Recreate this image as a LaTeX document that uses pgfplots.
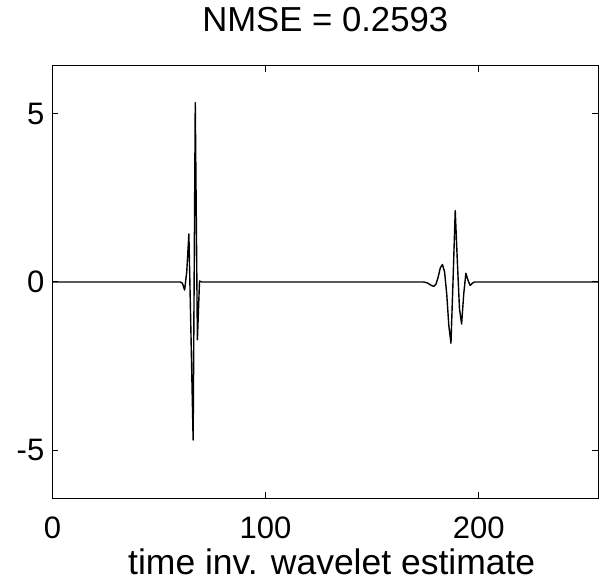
\documentclass[border=0pt]{standalone}
\usepackage{fontspec}
\setmainfont{Liberation Sans}
\usepackage{pgfplots}
\pgfplotsset{compat=1.18}
\begin{document}
\begin{tikzpicture}
\begin{axis}[
  scale only axis,
  width=545.5pt, height=432pt,
  xmin=0, xmax=256, ymin=-6.42, ymax=6.42,
  xtick={0,100,200}, xticklabels={0,100,200},
  ytick={-5,0,5}, yticklabels={-5,0,5},
  tick align=inside,
  major tick length=6pt,
  tick style={line width=1pt, black},
  axis line style={line width=1pt},
  tick label style={font=\fontsize{31}{36}\selectfont},
  xticklabel style={anchor=base, inner sep=0pt, yshift=-40pt},
  yticklabel style={anchor=east, inner sep=0pt, xshift=-8pt},
  title={NMSE = 0.2593},
  title style={at={(axis description cs:0.5,1)}, anchor=base, inner sep=0pt,
    yshift=28.7pt, font=\fontsize{34.7}{40}\selectfont},
  xlabel={time inv. wavelet estimate},
  xlabel style={at={(axis description cs:0.5,0)}, anchor=base, inner sep=0pt,
    yshift=-76.5pt, xshift=6.5pt, font=\fontsize{35.5}{40}\selectfont},
]
\addplot[black, line width=1.4pt, line join=round, sharp plot] coordinates {
  (0,0) (60,0) (61,-0.04) (62,-0.24) (63,0.3) (64,1.43) (65,-1.6)
  (66,-4.70) (67,5.33) (68,-1.72) (69,0.03) (70,0)
  (174,0) (175,-0.01) (176,-0.03) (177,-0.07) (178,-0.11) (179,-0.13)
  (180,-0.06) (181,0.15) (182,0.42) (183,0.52) (184,0.3) (185,-0.35)
  (186,-1.3) (187,-1.82) (188,0.1) (189,2.12) (190,0.6) (191,-0.8)
  (192,-1.25) (193,-0.35) (194,0.26) (195,0.05) (196,-0.1) (197,-0.04)
  (198,0) (256,0)
};
\end{axis}
\pgfresetboundingbox
\useasboundingbox (-52.5pt,-86pt) rectangle (553.5pt,498pt);
\end{tikzpicture}
\end{document}
